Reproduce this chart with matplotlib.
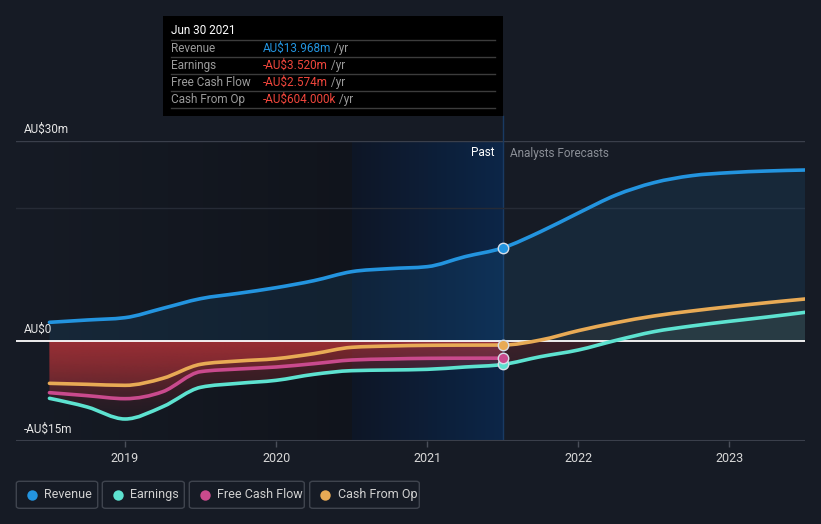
import numpy as np
import matplotlib.pyplot as plt
from matplotlib.path import Path
from matplotlib.patches import PathPatch, Rectangle, FancyBboxPatch
from matplotlib.lines import Line2D

plt.rcParams['font.family'] = ['Roboto', 'DejaVu Sans']

# values, AU$ millions, quarterly
past_t = [2018.5, 2018.75, 2019.0, 2019.25, 2019.5, 2019.75, 2020.0,
          2020.25, 2020.5, 2020.75, 2021.0, 2021.25, 2021.5]
fc_t = [2021.5, 2021.75, 2022.0, 2022.25, 2022.5, 2022.75, 2023.0, 2023.25, 2023.5]

revenue_past = [2.8, 3.15, 3.5, 4.9, 6.35, 7.15, 8.0, 9.05, 10.4, 10.85, 11.15, 12.65, 13.968]
revenue_fc = [13.968, 16.4, 19.2, 21.9, 23.75, 24.8, 25.25, 25.5, 25.65]
earnings_past = [-8.6, -9.9, -11.7, -9.85, -6.95, -6.35, -5.9, -5.0, -4.45, -4.35, -4.25, -3.9, -3.52]
earnings_fc = [-3.52, -2.35, -1.35, 0.1, 1.4, 2.25, 2.95, 3.6, 4.3]
fcf_past = [-7.75, -8.2, -8.65, -7.6, -4.6, -4.2, -3.9, -3.4, -2.85, -2.7, -2.6, -2.58, -2.574]
cfo_past = [-6.35, -6.5, -6.65, -5.6, -3.5, -3.0, -2.65, -1.9, -0.95, -0.75, -0.65, -0.62, -0.604]
cfo_fc = [-0.604, 0.15, 1.55, 2.75, 3.75, 4.5, 5.15, 5.75, 6.3]

series_names = ['Revenue', 'Earnings', 'Free Cash Flow', 'Cash From Op']
series_colors = ['#2394df', '#5de2d0', '#c94a8d', '#e8aa55']
tooltip_values = ['AU$13.968m', '-AU$3.520m', '-AU$2.574m', '-AU$604.000k']

y_tick_labels = ['AU$30m', 'AU$0', '-AU$15m']
x_ticks = [2019, 2020, 2021, 2022, 2023]

BG = '#161b25'
W, H = 821, 524


def fx(x):
    return x / W


def fy(y):
    return 1 - y / H


def smooth_path(t, y):
    # monotone cubic bezier through the points (drawing only)
    t = np.asarray(t, float)
    y = np.asarray(y, float)
    h = np.diff(t)
    s = np.diff(y) / h
    m = np.zeros(len(t))
    for i in range(1, len(t) - 1):
        if s[i - 1] * s[i] <= 0:
            m[i] = 0
        else:
            p = (s[i - 1] * h[i] + s[i] * h[i - 1]) / (h[i - 1] + h[i])
            m[i] = (np.sign(s[i - 1]) + np.sign(s[i])) * min(abs(s[i - 1]), abs(s[i]), 0.5 * abs(p))
    m[0] = (3 * s[0] - m[1]) / 2
    m[-1] = (3 * s[-1] - m[-2]) / 2
    verts = [(t[0], y[0])]
    codes = [Path.MOVETO]
    for i in range(len(t) - 1):
        verts += [(t[i] + h[i] / 3, y[i] + m[i] * h[i] / 3),
                  (t[i + 1] - h[i] / 3, y[i + 1] - m[i + 1] * h[i] / 3),
                  (t[i + 1], y[i + 1])]
        codes += [Path.CURVE4] * 3
    return verts, codes


fig = plt.figure(figsize=(8.21, 5.24), dpi=100)
fig.patch.set_facecolor(BG)

x0, x1 = 2019 - 109 / 151.1, 2023.5
ax = fig.add_axes([fx(16), fy(441), fx(805 - 16), (441 - 141) / H])
ax.set_facecolor(BG)
ax.set_xlim(x0, x1)
ax.set_ylim(-15, 30)
for sp in ax.spines.values():
    sp.set_visible(False)

# background gradients
grad = np.linspace(0, 1, 256).reshape(1, -1)
dark = np.zeros((1, 256, 4))
dark[..., 0] = 0.04
dark[..., 1] = 0.05
dark[..., 2] = 0.07
dark[..., 3] = grad * 0.45
ax.imshow(dark, extent=[x0, 2020.5, -15, 30], aspect='auto', zorder=0.5)

past = np.zeros((1, 256, 3))
past[..., 0] = np.linspace(14, 12, 256) / 255
past[..., 1] = np.linspace(22, 38, 256) / 255
past[..., 2] = np.linspace(38, 72, 256) / 255
ax.imshow(past, extent=[2020.5, 2021.5, -15, 30], aspect='auto', zorder=0.6)
ax.axvline(2021.5, ymin=0, ymax=1, color='#193a63', lw=1, zorder=1)
fig.add_artist(Line2D([fx(502.8), fx(502.8)], [fy(141), fy(116)], color='#193a63', lw=1))

# grid
ax.axhline(30, color='#3a3f4b', lw=1, zorder=1)
ax.axhline(20, color='#262b36', lw=1, zorder=1)
ax.axhline(-15, color='#3a3f4b', lw=1.5, zorder=1)

red_grad = np.zeros((256, 1, 4))
red_grad[..., 0] = 200 / 255
red_grad[..., 1] = 55 / 255
red_grad[..., 2] = 60 / 255


def area(t, y, color, alpha_scale):
    verts, codes = smooth_path(t, y)
    verts = verts + [(t[-1], 0), (t[0], 0), (t[0], y[0])]
    codes = codes + [Path.LINETO, Path.LINETO, Path.CLOSEPOLY]
    path = Path(verts, codes)
    if max(y) > 0:
        pos = PathPatch(path, facecolor=color, edgecolor='none', alpha=0.11 * alpha_scale, zorder=2)
        ax.add_patch(pos)
        pos.set_clip_path(Rectangle((x0, 0), x1 - x0, 40, transform=ax.transData))
    if min(y) < 0:
        clip = PathPatch(path, facecolor='none', edgecolor='none', transform=ax.transData)
        ax.add_patch(clip)
        g = red_grad.copy()
        g[..., 3] = np.linspace(0.36, 0.03, 256).reshape(-1, 1) * alpha_scale
        im = ax.imshow(g, extent=[t[0], t[-1], -13, 0], aspect='auto', zorder=2)
        im.set_clip_path(clip)


def line(t, y, color):
    verts, codes = smooth_path(t, y)
    ax.add_patch(PathPatch(Path(verts, codes), facecolor='none', edgecolor=color, lw=2.6,
                           capstyle='round', joinstyle='round', zorder=4))


area(past_t, revenue_past, series_colors[0], 1.0)
area(fc_t, revenue_fc, series_colors[0], 1.0)
area(past_t, earnings_past, series_colors[1], 1.0)
area(fc_t, earnings_fc, series_colors[1], 0.6)
area(past_t, fcf_past, series_colors[2], 1.0)
area(past_t, cfo_past, series_colors[3], 1.0)
area(fc_t, cfo_fc, series_colors[3], 0.6)

ax.axhline(0, color='#ffffff', lw=1.3, zorder=3)

line(past_t + fc_t[1:], revenue_past + revenue_fc[1:], series_colors[0])
line(past_t + fc_t[1:], earnings_past + earnings_fc[1:], series_colors[1])
line(past_t, fcf_past, series_colors[2])
line(past_t + fc_t[1:], cfo_past + cfo_fc[1:], series_colors[3])

for val, c in zip([revenue_past[-1], earnings_past[-1], fcf_past[-1], cfo_past[-1]], series_colors):
    ax.plot([past_t[-1]], [val], 'o', ms=7.5, mfc=c, mec='#d8dee8', mew=1, zorder=6)

# axes labels
ax.set_xticks(x_ticks)
ax.set_xticklabels([str(v) for v in x_ticks])
ax.tick_params(axis='x', colors='#4a4f5a', length=4, width=1, labelcolor='#d8d8d8',
               labelsize=9, pad=4)
ax.set_yticks([])
for ypix, lab in zip([129, 329, 429], y_tick_labels):
    fig.text(fx(24), fy(ypix), lab, color='#e6e6e6', fontsize=8.5, va='center', ha='left')

fig.text(fx(494), fy(153), 'Past', color='#ffffff', fontsize=8.5, va='center', ha='right')
fig.text(fx(510), fy(153), 'Analysts Forecasts', color='#8a8e96', fontsize=8.5,
         va='center', ha='left')

# tooltip
fig.add_artist(Rectangle((fx(163), fy(116)), fx(340), 100 / H, transform=fig.transFigure,
                         facecolor='#000000', edgecolor='none', zorder=10))
fig.text(fx(171), fy(31), 'Jun 30 2021', color='#ffffff', fontsize=8.5, va='center',
         ha='left', zorder=11)
for ysep in [40, 57, 74, 91, 108]:
    fig.add_artist(Line2D([fx(171), fx(495)], [fy(ysep), fy(ysep)], color='#3c3c3c',
                          lw=1, zorder=11))
for i, (name, val) in enumerate(zip(series_names, tooltip_values)):
    yrow = 48.5 + 17 * i
    fig.text(fx(171), fy(yrow), name, color='#9a9a9a', fontsize=8.5, va='center',
             ha='left', zorder=11)
    vc = '#2394df' if i == 0 else '#f0463c'
    t = fig.text(fx(263), fy(yrow), val, color=vc, fontsize=8.5, va='center', ha='left', zorder=11)
    fig.add_artist(plt.Annotation(' /yr', xy=(1, 0.5), xycoords=t, va='center', ha='left',
                                  color='#9a9a9a', fontsize=8.5, zorder=11))

# legend
boxes = [(16.3, 97.7), (102.3, 184.3), (189.3, 304.3), (309.7, 419.3)]
for (bx0, bx1), name, c in zip(boxes, series_names, series_colors):
    fig.add_artist(FancyBboxPatch((fx(bx0), fy(508.3)), fx(bx1 - bx0), 27 / H,
                                  boxstyle='round,pad=0,rounding_size=0.004',
                                  transform=fig.transFigure, facecolor='none',
                                  edgecolor='#3f444e', lw=1))
    fig.add_artist(Line2D([fx(bx0 + 15.5)], [fy(494.5)], marker='o', ms=7.5, mfc=c,
                          mec='none', transform=fig.transFigure))
    fig.text(fx(bx0 + 28), fy(494.5), name, color='#d0d0d0', fontsize=9, va='center', ha='left')

fig.savefig('out.png', dpi=100, facecolor=BG)
